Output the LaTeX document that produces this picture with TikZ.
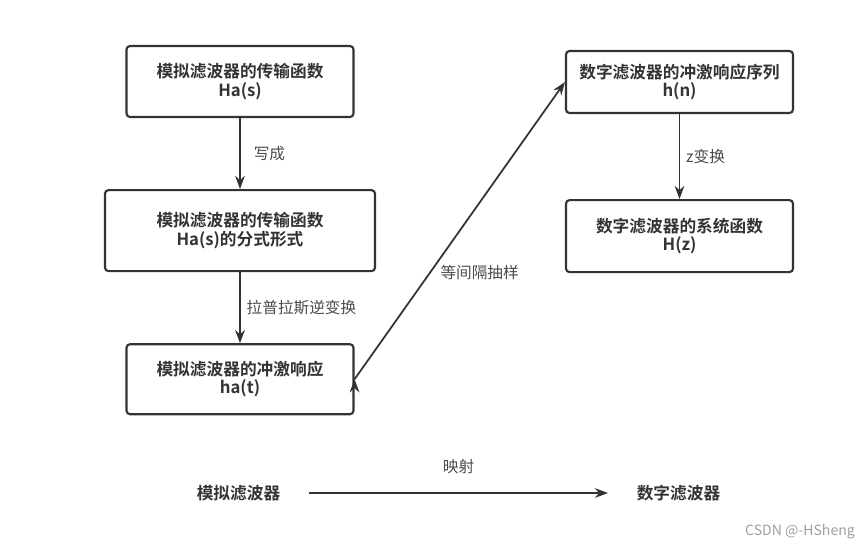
\documentclass[tikz,border=0pt]{standalone}
\usepackage{fontspec}
\setmainfont{Noto Sans CJK SC}[BoldFont={Noto Sans CJK SC Bold}]
\usetikzlibrary{arrows.meta, positioning}
\definecolor{boxgray}{HTML}{333333}
\definecolor{labelgray}{HTML}{4A4A4A}

\begin{document}
\begin{tikzpicture}[auto, node distance=1.42cm,
	box/.style={draw=boxgray, line width=1.2pt, rounded corners=2pt, fill=white,
		align=center, text=boxgray, font=\fontsize{9.5}{10.5}\selectfont\bfseries,
		minimum width=4.54cm, minimum height=1.42cm},
	lbl/.style={text=labelgray, font=\fontsize{8.9}{10}\selectfont},
	title/.style={text=boxgray, font=\fontsize{9.5}{10.5}\selectfont\bfseries},
	arr/.style={-{Stealth[length=7.5pt, width=5.5pt]}, draw=boxgray, line width=1pt}]
	\useasboundingbox (0,0) rectangle (17.3,-10.96);

	\node[box]                                            (has)    at (4.8,-1.63)   {模拟滤波器的传输函数\\Ha(s)};
	\node[box, minimum width=5.4cm, minimum height=1.62cm] (hafrac) [below=of has]  {模拟滤波器的传输函数\\Ha(s)的分式形式};
	\node[box, minimum height=1.4cm]                      (hat)    [below=of hafrac] {模拟滤波器的冲激响应\\ha(t)};
	\node[box, minimum height=1.24cm]                     (hn)     at (13.59,-1.64) {数字滤波器的冲激响应序列\\h(n)};
	\node[box, minimum height=1.44cm]                     (hz)     [below=1.7cm of hn] {数字滤波器的系统函数\\H(z)};

	\node[title] (analog)  at (4.77,-9.86)  {模拟滤波器};
	\node[title] (digital) at (13.57,-9.86) {数字滤波器};
	\node[text=gray!75, font=\fontsize{8}{9}\selectfont] (mark) at (16.0,-10.64) {CSDN @-HSheng};

	\path[arr] (has) edge node[lbl, xshift=4pt] {写成} (hafrac);
	\path[arr] (hafrac) edge node[lbl] {拉普拉斯逆变换} (hat);
	\path[arr] (hn) edge node[lbl] {z变换} (hz);
	\path[arr] (hat.east) edge node[lbl, auto=false, pos=0.36, anchor=west, xshift=2pt] {等间隔抽样} (hn.west);
	\path[arr, shorten <=0.45cm, shorten >=0.45cm] (analog) edge node[lbl, yshift=0.25cm] {映射} (digital);
\end{tikzpicture}
\end{document}
